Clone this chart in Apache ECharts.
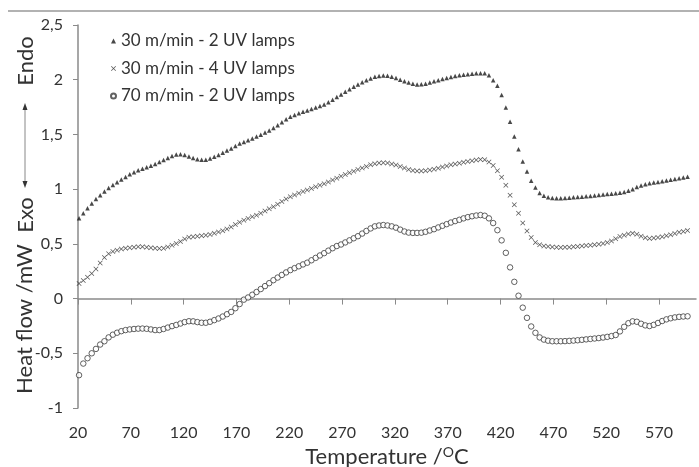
<!DOCTYPE html>
<html lang="en" style="height: 100%">
<head>
  <meta charset="utf-8">
</head>
<body style="height: 100%; margin: 0">
  <div id="container" style="width: 699px; height: 467px"></div>

  <script type="text/javascript" src="https://cdn.jsdelivr.net/npm/echarts@6.0.0/dist/echarts.min.js"></script>
  <script type="text/javascript">
    // temperatures (°C) shared by the three runs
    var temps = [
      21, 25, 29, 33, 37, 41, 45, 49, 53, 57, 61, 65, 69, 73, 77, 81, 85, 89, 93, 97,
      101, 105, 109, 113, 117, 121, 125, 129, 133, 137, 141, 145, 149, 153, 157, 161, 165, 169, 173, 177,
      181, 185, 189, 193, 197, 201, 205, 209, 213, 217, 221, 225, 229, 233, 237, 241, 245, 249, 253, 257,
      261, 265, 269, 273, 277, 281, 285, 289, 293, 297, 301, 305, 309, 313, 317, 321, 325, 329, 333, 337,
      341, 345, 349, 353, 357, 361, 365, 369, 373, 377, 381, 385, 389, 393, 397, 401, 405, 409, 413, 417,
      421, 425, 429, 433, 437, 441, 445, 449, 453, 457, 461, 465, 469, 473, 477, 481, 485, 489, 493, 497,
      501, 505, 509, 513, 517, 521, 525, 529, 533, 537, 541, 545, 549, 553, 557, 561, 565, 569, 573, 577,
      581, 585, 589, 593, 597
    ];

    // 30 m/min - 2 UV lamps
    var run30x2 = [
      0.735, 0.78, 0.825, 0.868, 0.91, 0.945, 0.978, 1.01, 1.038, 1.063, 1.088, 1.112, 1.135, 1.155, 1.172, 1.186, 1.2, 1.214, 1.23, 1.248,
      1.266, 1.285, 1.304, 1.316, 1.32, 1.313, 1.298, 1.285, 1.274, 1.268, 1.268, 1.28, 1.296, 1.312, 1.332, 1.352, 1.372, 1.395, 1.417, 1.431,
      1.446, 1.463, 1.48, 1.498, 1.517, 1.537, 1.558, 1.584, 1.612, 1.638, 1.662, 1.678, 1.693, 1.707, 1.719, 1.732, 1.745, 1.759, 1.774, 1.795,
      1.818, 1.842, 1.866, 1.89, 1.913, 1.936, 1.957, 1.976, 1.995, 2.012, 2.026, 2.034, 2.038, 2.036, 2.028, 2.016, 2.0, 1.985, 1.975, 1.963,
      1.956, 1.958, 1.964, 1.974, 1.985, 1.996, 2.006, 2.016, 2.025, 2.033, 2.04, 2.046, 2.051, 2.055, 2.058, 2.06, 2.058, 2.04, 1.995, 1.945,
      1.86, 1.745, 1.617, 1.481, 1.364, 1.252, 1.162, 1.077, 1.014, 0.965, 0.94, 0.927, 0.92, 0.917, 0.917, 0.92, 0.922, 0.925, 0.928, 0.931,
      0.934, 0.938, 0.942, 0.947, 0.951, 0.955, 0.959, 0.963, 0.968, 0.975, 0.985, 1.0, 1.02, 1.034, 1.045, 1.054, 1.06, 1.066, 1.072, 1.078,
      1.085, 1.093, 1.1, 1.107, 1.114
    ];

    // 30 m/min - 4 UV lamps
    var run30x4 = [
      0.138, 0.165, 0.195, 0.23, 0.27, 0.325, 0.375, 0.41, 0.43, 0.442, 0.452, 0.459, 0.465, 0.47, 0.473, 0.473, 0.47, 0.465, 0.46, 0.457,
      0.46, 0.472, 0.488, 0.503, 0.522, 0.545, 0.56, 0.566, 0.57, 0.573, 0.578, 0.585, 0.596, 0.608, 0.62, 0.635, 0.655, 0.677, 0.698, 0.716,
      0.732, 0.747, 0.762, 0.78, 0.8, 0.82, 0.839, 0.862, 0.886, 0.909, 0.93, 0.946, 0.962, 0.978, 0.993, 1.007, 1.021, 1.035, 1.05, 1.066,
      1.083, 1.1, 1.117, 1.133, 1.149, 1.164, 1.179, 1.194, 1.208, 1.222, 1.232, 1.239, 1.242, 1.238, 1.23, 1.221, 1.207, 1.193, 1.179, 1.17,
      1.166, 1.166, 1.169, 1.175, 1.182, 1.192, 1.202, 1.212, 1.222, 1.23, 1.237, 1.245, 1.252, 1.259, 1.266, 1.272, 1.268, 1.248, 1.215, 1.168,
      1.108, 1.035, 0.944, 0.857, 0.779, 0.69, 0.618, 0.557, 0.512, 0.491, 0.48, 0.475, 0.472, 0.468, 0.467, 0.468, 0.47, 0.473, 0.476, 0.48,
      0.484, 0.488, 0.492, 0.497, 0.503, 0.513, 0.526, 0.546, 0.567, 0.578, 0.589, 0.597, 0.588, 0.569, 0.556, 0.549, 0.553, 0.559, 0.566, 0.574,
      0.583, 0.594, 0.605, 0.614, 0.622
    ];

    // 70 m/min - 2 UV lamps
    var run70x2 = [
      -0.70, -0.594, -0.545, -0.50, -0.46, -0.42, -0.39, -0.355, -0.33, -0.312, -0.298, -0.288, -0.282, -0.278, -0.275, -0.274, -0.276, -0.282, -0.288, -0.288,
      -0.278, -0.265, -0.252, -0.241, -0.228, -0.215, -0.207, -0.208, -0.215, -0.221, -0.221, -0.212, -0.197, -0.182, -0.164, -0.143, -0.122, -0.088, -0.05, -0.01,
      0.01, 0.035, 0.06, 0.087, 0.114, 0.141, 0.168, 0.192, 0.216, 0.239, 0.26, 0.278, 0.295, 0.312, 0.328, 0.35, 0.372, 0.394, 0.415, 0.438,
      0.46, 0.48, 0.494, 0.513, 0.532, 0.551, 0.57, 0.594, 0.618, 0.641, 0.66, 0.668, 0.672, 0.668, 0.66, 0.648, 0.63, 0.613, 0.603, 0.6,
      0.6, 0.602, 0.61, 0.622, 0.634, 0.65, 0.665, 0.68, 0.695, 0.708, 0.72, 0.733, 0.744, 0.752, 0.759, 0.763, 0.757, 0.733, 0.69, 0.625,
      0.532, 0.418, 0.285, 0.153, 0.026, -0.083, -0.176, -0.255, -0.313, -0.355, -0.375, -0.385, -0.39, -0.39, -0.39, -0.389, -0.387, -0.384, -0.381, -0.377,
      -0.373, -0.369, -0.365, -0.361, -0.356, -0.35, -0.343, -0.333, -0.3, -0.258, -0.225, -0.208, -0.212, -0.23, -0.245, -0.251, -0.24, -0.223, -0.205, -0.19,
      -0.18, -0.172, -0.167, -0.164, -0.162
    ];

    var seriesNames = ['30 m/min - 2 UV lamps', '30 m/min - 4 UV lamps', '70 m/min - 2 UV lamps'];

    var FONT = 'Lato, "Liberation Sans", sans-serif';
    var CROSS = 'path://M0,1L1,0L5,4L9,0L10,1L6,5L10,9L9,10L5,6L1,10L0,9L4,5Z';

    function pairs(vals) {
      return temps.map(function (t, i) { return [t, vals[i]]; });
    }

    var dom = document.getElementById('container');
    var myChart = echarts.init(dom, null, { renderer: 'canvas' });

    var option = {
      backgroundColor: '#fff',
      animation: false,
      textStyle: { fontFamily: FONT },
      grid: { left: 78, right: 3, top: 25, bottom: 59, containLabel: false, outerBoundsMode: 'none' },
      legend: {
        orient: 'vertical',
        left: 105,
        top: 26,
        itemWidth: 5,
        itemHeight: 5,
        itemGap: 7.5,
        textStyle: { fontFamily: FONT, fontSize: 17, color: '#333', lineHeight: 20 },
        data: seriesNames
      },
      xAxis: {
        type: 'value',
        min: 20,
        max: 605,
        interval: 50,
        name: 'Temperature /{sup|O}C',
        nameLocation: 'middle',
        nameGap: 34,
        nameTextStyle: {
          fontFamily: FONT, fontSize: 22, color: '#333',
          rich: { sup: { fontFamily: FONT, fontSize: 14, color: '#333', verticalAlign: 'top', padding: [0, 0, 9, 0] } }
        },
        splitLine: { show: false },
        axisLine: { show: true, lineStyle: { color: '#8a8a8a', width: 1.5 } },
        axisTick: { show: true, length: 6, lineStyle: { color: '#8a8a8a' } },
        axisLabel: { fontSize: 16, color: '#333', margin: 17, showMaxLabel: false }
      },
      yAxis: {
        type: 'value',
        min: -1,
        max: 2.5,
        interval: 0.5,
        splitLine: { show: false },
        axisLine: { show: true, lineStyle: { color: '#8a8a8a', width: 1.5 } },
        axisTick: { show: true, length: 5, lineStyle: { color: '#8a8a8a' } },
        axisLabel: {
          fontSize: 16, color: '#333', margin: 15,
          formatter: function (v) { return String(v).replace('.', ','); }
        }
      },
      series: [
        {
          name: seriesNames[0],
          type: 'scatter',
          symbol: 'triangle',
          symbolSize: 4.5,
          itemStyle: { color: '#1a1a1a' },
          data: pairs(run30x2)
        },
        {
          name: seriesNames[1],
          type: 'scatter',
          symbol: CROSS,
          symbolSize: 5,
          itemStyle: { color: '#2a2a2a' },
          data: pairs(run30x4)
        },
        {
          name: seriesNames[2],
          type: 'scatter',
          symbol: 'circle',
          symbolSize: 5.5,
          itemStyle: { color: '#fff', borderColor: '#3a3a3a', borderWidth: 1 },
          data: pairs(run70x2)
        }
      ],
      graphic: [
        { type: 'line', shape: { x1: 8, y1: 11, x2: 699, y2: 11 }, style: { stroke: '#999', lineWidth: 1.5 } },
        {
          type: 'text', x: 26, y: 61, rotation: Math.PI / 2,
          style: { text: 'Endo', font: '22px ' + FONT, fill: '#333', textAlign: 'center', textVerticalAlign: 'middle' }
        },
        { type: 'line', shape: { x1: 25, y1: 107, x2: 25, y2: 184 }, style: { stroke: '#888', lineWidth: 1 } },
        { type: 'polygon', shape: { points: [[25, 103], [22.5, 110], [27.5, 110]] }, style: { fill: '#333' } },
        { type: 'polygon', shape: { points: [[25, 188], [22.5, 181], [27.5, 181]] }, style: { fill: '#333' } },
        {
          type: 'text', x: 26, y: 215, rotation: Math.PI / 2,
          style: { text: 'Exo', font: '22px ' + FONT, fill: '#333', textAlign: 'center', textVerticalAlign: 'middle' }
        },
        {
          type: 'text', x: 25, y: 319, rotation: Math.PI / 2,
          style: { text: 'Heat flow /mW', font: '22px ' + FONT, fill: '#333', textAlign: 'center', textVerticalAlign: 'middle' }
        }
      ]
    };

    myChart.setOption(option);
    window.addEventListener('resize', myChart.resize);
  </script>
</body>
</html>
